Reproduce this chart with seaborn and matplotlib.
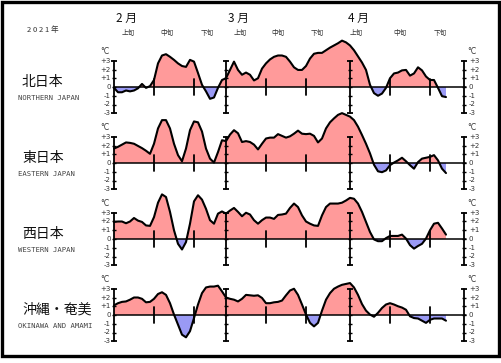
import numpy as np
import pandas as pd
import matplotlib
matplotlib.use("Agg")
import matplotlib.pyplot as plt
import seaborn as sns
from matplotlib.patches import Rectangle

sns.set_theme(style="white")
plt.rcParams['font.family'] = ['Noto Sans CJK JP', 'DejaVu Sans']

# ---- data: 5-day running mean temperature anomaly (°C), Feb 1 .. Apr 25, 2021 ----
days = list(range(84))
north = [-0.1, -0.6, -0.6, -0.4, -0.5, -0.4, -0.15, 0.35, -0.1, 0.1,
         0.8, 2.7, 3.6, 3.75, 3.45, 3.1, 2.7, 2.4, 2.3, 3.1,
         2.9, 1.6, 0.25, -0.5, -1.35, -1.2, -0.1, 0.8, 1.0, 1.95,
         2.9, 1.95, 1.4, 1.65, 1.4, 0.75, 1.0, 2.1, 2.7, 3.15,
         3.45, 3.6, 3.6, 3.45, 2.9, 2.25, 1.95, 1.95, 2.4, 3.25,
         3.8, 3.9, 3.9, 4.2, 4.5, 4.75, 5.0, 5.3, 5.1, 4.75,
         4.2, 3.5, 2.8, 1.95, 0.25, -0.7, -1.0, -0.75, -0.1, 1.0,
         1.55, 1.65, 1.9, 1.95, 1.3, 1.55, 2.25, 1.9, 1.2, 0.8,
         0.8, -0.1, -1.05, -1.15]
east = [1.65, 1.85, 2.1, 2.35, 2.3, 2.2, 1.95, 1.7, 1.4, 1.05,
        2.2, 3.95, 4.9, 4.9, 3.95, 2.2, 0.9, 0.2, 1.65, 3.75,
        4.75, 4.65, 3.6, 1.65, 0.5, 0.05, 1.25, 2.6, 2.5, 3.25,
        3.75, 3.4, 2.4, 2.5, 2.4, 2.1, 1.55, 2.2, 2.8, 2.9,
        2.9, 3.3, 3.1, 2.9, 3.05, 3.35, 3.7, 3.35, 3.3, 3.35,
        3.1, 2.35, 2.8, 3.95, 4.65, 5.1, 5.5, 5.7, 5.5, 5.3,
        4.9, 4.15, 3.2, 2.2, 1.1, -0.2, -0.95, -1.05, -0.85, -0.25,
        0.05, 0.3, 0.6, 0.2, -0.25, -0.65, 0.1, 0.5, 0.6, 0.7,
        0.9, 0.3, -0.65, -1.15]
west = [1.95, 2.0, 2.0, 1.8, 2.0, 2.4, 2.1, 1.95, 1.55, 1.5,
        2.5, 4.15, 5.1, 4.8, 3.1, 1.0, -0.55, -1.2, -0.35, 1.75,
        4.3, 5.0, 4.5, 3.45, 2.15, 1.75, 2.9, 3.15, 2.9, 3.25,
        3.55, 3.1, 2.6, 3.0, 2.8, 2.15, 1.75, 2.15, 2.45, 2.45,
        2.3, 2.75, 2.8, 2.9, 3.55, 4.05, 3.65, 2.7, 2.0, 1.75,
        1.55, 1.5, 2.7, 3.65, 4.05, 4.05, 4.05, 4.15, 4.4, 4.7,
        4.6, 4.05, 3.1, 1.95, 0.8, -0.05, -0.25, -0.25, 0.1, 0.35,
        0.35, 0.35, 0.5, 0.05, -0.7, -1.1, -0.8, -0.55, 0.05, 1.0,
        1.75, 1.85, 1.2, 0.5]
okinawa = [1.1, 1.35, 1.5, 1.55, 1.75, 2.0, 2.0, 1.85, 1.45, 1.5,
           1.85, 2.4, 2.6, 2.3, 1.35, 0.05, -1.1, -2.25, -2.55, -1.85,
           -0.35, 1.2, 2.5, 3.15, 3.25, 3.25, 3.35, 2.7, 2.0, 1.85,
           1.75, 1.55, 1.85, 2.3, 2.25, 2.2, 2.25, 1.95, 1.35, 1.35,
           1.45, 1.5, 1.65, 2.25, 2.8, 3.0, 2.3, 1.2, 0.05, -0.9,
           -1.3, -0.9, 0.5, 1.75, 2.5, 3.0, 3.25, 3.45, 3.55, 3.65,
           3.15, 2.3, 1.25, 0.5, 0.05, -0.2, 0.25, 0.8, 1.2, 1.35,
           1.2, 1.0, 0.85, 0.6, -0.15, -0.35, -0.4, -0.65, -0.9, -0.55,
           -0.4, -0.4, -0.4, -0.65]

regions_ja = ["北日本", "東日本", "西日本", "沖縄・奄美"]
regions_en = ["NORTHERN JAPAN", "EASTERN JAPAN", "WESTERN JAPAN", "OKINAWA AND AMAMI"]
series = [north, east, west, okinawa]
months = ["2 月", "3 月", "4 月"]
dekads = ["上旬", "中旬", "下旬"]
year_label = "2 0 2 1 年"
y_ticks = [3, 2, 1, 0, -1, -2, -3]
y_tick_labels = ["+3", "+2", "+1", "0", "-1", "-2", "-3"]
month_starts = [28, 59]          # Mar 1, Apr 1 (day index from Feb 1)
dekad_starts = [10, 20, 38, 48, 69, 79]

# ---- layout ----
W, H = 501, 363
X0, PX_DAY, UNIT = 114, 4.0, 8.75
zeros_px = [87, 163, 239, 315]
POS, NEG = "#FF9A9A", "#9A9AF5"

def dx(px):
    return (px - X0) / PX_DAY

fig = plt.figure(figsize=(W / 100, H / 100), dpi=100)

for i, (vals, ja, en) in enumerate(zip(series, regions_ja, regions_en)):
    z = zeros_px[i]
    ax = fig.add_axes([0, 0, 1, 1])
    ax.set_xlim(dx(0), dx(W))
    ax.set_ylim(-(H - z) / UNIT, z / UNIT)
    ax.axis("off")
    ax.patch.set_alpha(0)
    df = pd.DataFrame({"day": days, "anom": vals})
    v = np.array(vals)
    ax.fill_between(df["day"], v, 0, where=v >= 0, interpolate=True, color=POS, lw=0, zorder=1)
    ax.fill_between(df["day"], v, 0, where=v <= 0, interpolate=True, color=NEG, lw=0, zorder=1)
    ax.plot([0, 88], [0, 0], color="black", lw=1.1, zorder=2)
    sns.lineplot(data=df, x="day", y="anom", ax=ax, color="black", lw=1.5, zorder=4)
    # rulers
    for xr in [0] + month_starts + [87.5]:
        ax.plot([xr, xr], [-3, 3], color="black", lw=1.3, zorder=3)
        ax.plot([xr] * 5, y_ticks[1:-1], ls="none", marker="_", ms=3.5, mew=1.0, color="black", zorder=3)
        ax.plot([xr] * 2, [3, -3], ls="none", marker="_", ms=5, mew=1.3, color="black", zorder=3)
    for d in dekad_starts:
        ax.plot([d, d], [-0.9, 0.9], color="black", lw=1.3, zorder=3)
    for yv, lbl in zip(y_ticks, y_tick_labels):
        ax.text(dx(111), yv, lbl, ha="right", va="center", fontsize=5, color="#333333",
                family="DejaVu Sans")
        ax.text(dx(469), yv, lbl, ha="left", va="center", fontsize=5, color="#333333",
                family="DejaVu Sans")
    ax.text(dx(105), 4.0, "°C", ha="center", va="center", fontsize=5.5, color="#333333", family="DejaVu Sans")
    ax.text(dx(472), 4.0, "°C", ha="center", va="center", fontsize=5.5, color="#333333", family="DejaVu Sans")
    ax.text(dx(22), 0.6, ja, ha="left", va="center", fontsize=10, color="#111111")
    ax.text(dx(18), -1.25, en, ha="left", va="center", fontsize=5.2, color="#444444",
            family="DejaVu Sans Mono")

# top labels
for m, xm in zip(months, [127, 238, 358]):
    fig.text(xm / W, 1 - 18 / H, m, ha="center", va="center", fontsize=8.5, color="#111111")
for xs in ([128, 167, 207], [240, 278, 317], [356, 400, 440]):
    for lbl, xd in zip(dekads, xs):
        fig.text(xd / W, 1 - 33 / H, lbl, ha="center", va="center", fontsize=4.8, color="#333333")
fig.text(43 / W, 1 - 30 / H, year_label, ha="center", va="center", fontsize=5.5, color="#333333")

# frame
fig.patches.append(Rectangle((2 / W, (H - 356) / H), (W - 4) / W, 354 / H,
                             transform=fig.transFigure, fill=False, lw=2.4, ec="black"))

fig.savefig("out.png", dpi=100)
